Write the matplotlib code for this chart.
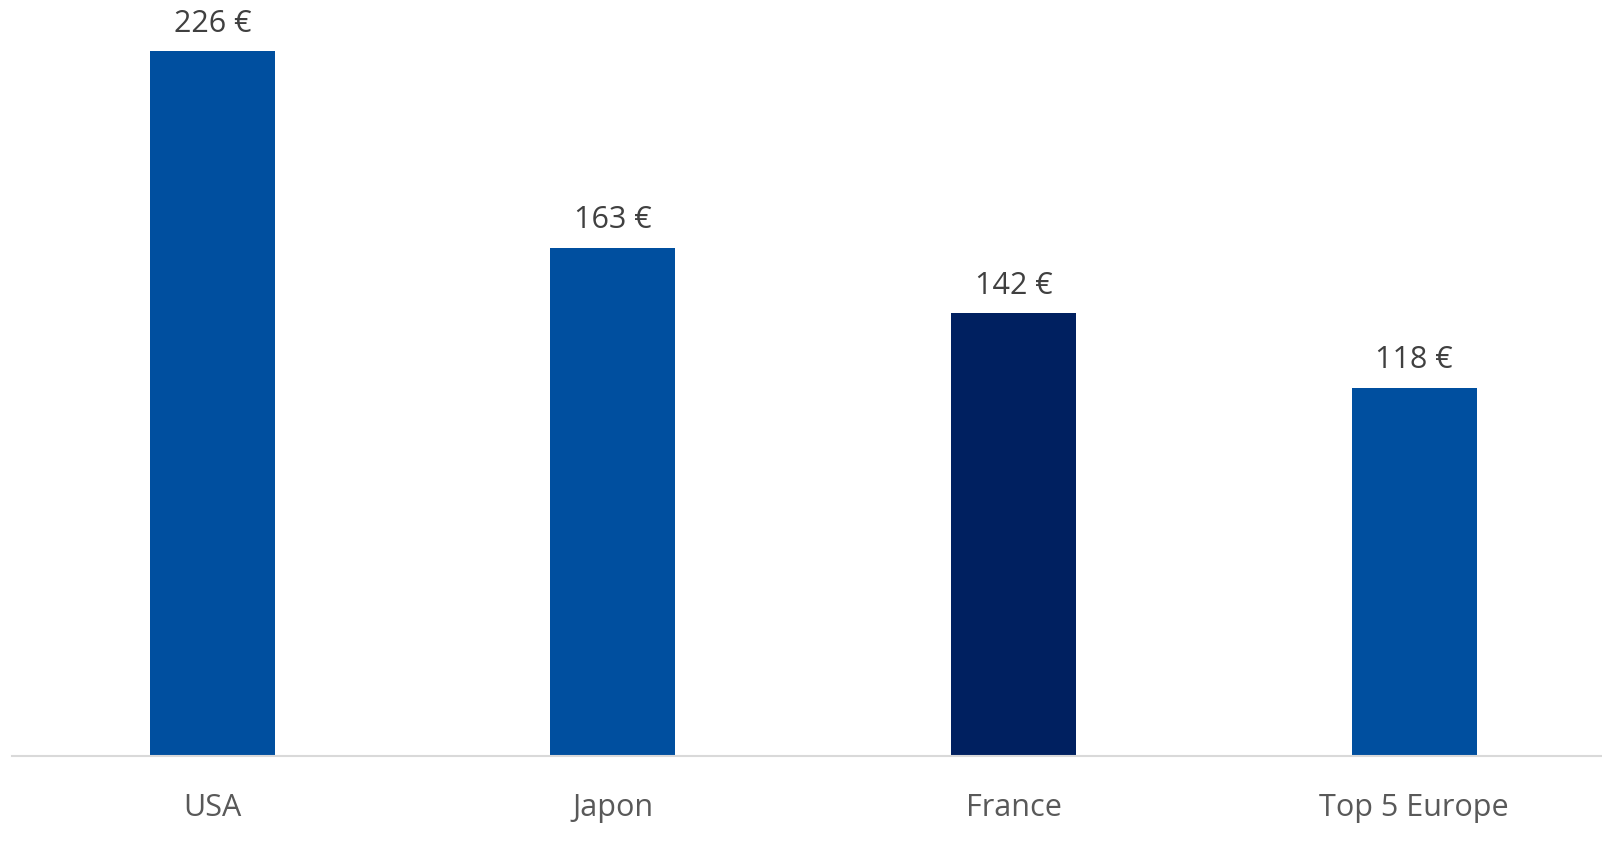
import matplotlib.pyplot as plt

categories = ['USA', 'Japon', 'France', 'Top 5 Europe']
values = [226, 163, 142, 118]
colors = ['#004F9F', '#004F9F', '#002060', '#004F9F']

plt.rcParams['font.family'] = ['Open Sans', 'DejaVu Sans']

fig = plt.figure(figsize=(16.02, 8.43), dpi=100)
ax = fig.add_axes([12 / 1602, 87 / 843, 1590 / 1602, 756 / 843])

x = range(len(categories))
bars = ax.bar(x, values, width=0.312, color=colors)

for b, v in zip(bars, values):
    ax.annotate(f'{v} €', (b.get_x() + b.get_width() / 2, v),
                xytext=(0, 9), textcoords='offset points',
                ha='center', va='bottom', fontsize=22, color='#404040')

ax.set_xlim(-0.5, 3.469)
ax.set_ylim(0, 242.4)
ax.set_xticks(list(x))
ax.set_xticklabels(categories, fontsize=22, color='#595959')
ax.tick_params(axis='x', length=0, pad=26.5)
ax.set_yticks([])
for s in ['top', 'right', 'left']:
    ax.spines[s].set_visible(False)
ax.spines['bottom'].set_color('#D9D9D9')
ax.spines['bottom'].set_linewidth(1.5)

fig.savefig('out.png', dpi=100)
